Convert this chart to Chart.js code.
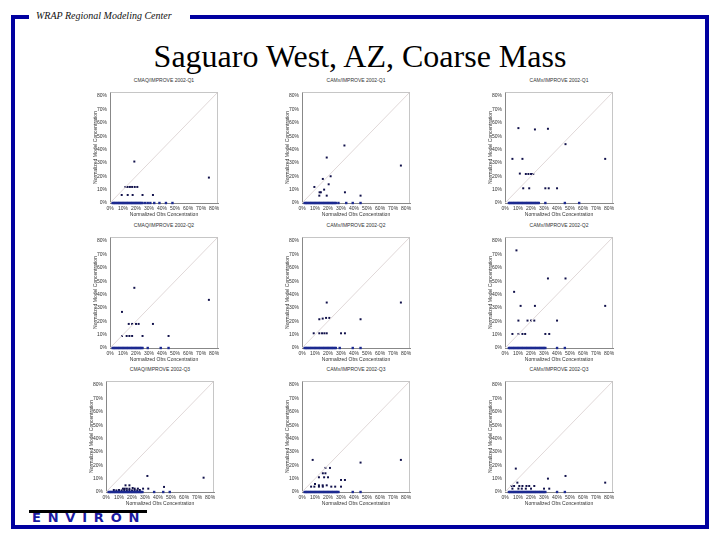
<!DOCTYPE html>
<html>
<head>
<meta charset="utf-8">
<script src="https://cdn.jsdelivr.net/npm/chart.js@4.4.0/dist/chart.umd.min.js"></script>
<style>
  html, body { margin: 0; padding: 0; background: #fff; }
  #slide { position: relative; width: 720px; height: 540px; overflow: hidden; background: #fff; }
  .frame { position: absolute; background: #0000a0; }
  .panel { position: absolute; }
  .ptitle { position: absolute; font: 5px "Liberation Sans", Arial, sans-serif; color: #333; text-align: center; white-space: nowrap; }
  #head { position: absolute; left: 36px; top: 10px; font: italic 10px "Liberation Serif", "Times New Roman", serif; color: #111; }
  #title { position: absolute; left: 0; width: 720px; top: 41px; text-align: center; font: 32px "Liberation Serif", "Times New Roman", serif; color: #000; line-height: 30px; }
  #logoBar { position: absolute; left: 29px; top: 510px; width: 118px; height: 3px; background: #000; }
  #logo { position: absolute; left: 32px; top: 512px; font: bold 13px "DejaVu Sans", sans-serif; letter-spacing: 6.8px; color: #1a1aa0; line-height: 12px; }
</style>
</head>
<body>
<div id="slide">
  <div class="frame" style="left:11px;top:15px;width:18px;height:4px"></div>
  <div class="frame" style="left:190px;top:15px;width:519px;height:4px"></div>
  <div class="frame" style="left:11px;top:15px;width:4px;height:514px"></div>
  <div class="frame" style="left:705px;top:15px;width:4px;height:514px"></div>
  <div class="frame" style="left:11px;top:525px;width:698px;height:4px"></div>
  <div id="head">WRAP Regional Modeling Center</div>
  <div id="title">Saguaro West, AZ, Coarse Mass</div>
  <div id="logoBar"></div>
  <div id="logo">ENVIRON</div>
</div>
<script>
// 축 눈금
const TICKS = [0, 10, 20, 30, 40, 50, 60, 70, 80];
const AXIS_MAX = 83;

// 패널 제목
const panelTitles = [
  'CMAQ/IMPROVE 2002-Q1', 'CAMx/IMPROVE 2002-Q1', 'CAMx/IMPROVE 2002-Q1',
  'CMAQ/IMPROVE 2002-Q2', 'CAMx/IMPROVE 2002-Q2', 'CAMx/IMPROVE 2002-Q2',
  'CMAQ/IMPROVE 2002-Q3', 'CAMx/IMPROVE 2002-Q3', 'CAMx/IMPROVE 2002-Q3'
];
const xTitle = 'Normalized Obs Concentration';
const yTitle = 'Normalized Model Concentration';

// 관측(x) / 모델(y) 값 (%)
const obs1 = [18.7, 76, 11.8, 13.5, 15.3, 17, 19, 21, 9, 13.6, 17.4, 25, 33];
const mod1 = [31, 19, 12, 12, 12, 12, 12, 12, 6, 6, 6, 6, 6];
const obs2 = [32.6, 19, 76, 22, 16, 20.5, 9.5, 17, 13.5, 14.5, 13.3, 19, 33, 45];
const mod2 = [43, 34, 28, 20, 18, 14, 12, 10, 8, 8, 5.5, 5.5, 8, 5.5];
const obs3 = [10.3, 23, 33, 46.5, 5.7, 13.4, 77, 11.4, 16, 18, 20, 21.7, 14, 18.6, 31, 33.6, 40];
const mod3 = [56, 55, 55.5, 44, 33, 33, 33, 22, 21.7, 21.7, 21.7, 21.7, 11, 11, 11, 11, 11];
const obs4 = [18.7, 76, 9.2, 14.4, 17, 20, 22, 33, 9.2, 12.8, 14.9, 17, 25, 45];
const mod4 = [45, 36, 27, 18, 18, 18, 18, 18, 9, 9, 9, 9, 9, 9];
const obs5 = [19, 76, 13.3, 15.9, 18.5, 21, 45, 9, 13.3, 15.4, 17.2, 19, 30, 33];
const mod5 = [34, 34, 21.5, 22, 22.5, 22.5, 21.5, 11, 11, 11, 11, 11, 11, 11];
const obs6 = [8.8, 33, 46.5, 7, 12, 23, 77, 10.3, 17.3, 20, 22.5, 40, 5.7, 10.3, 13.4, 15.5, 31, 34];
const mod6 = [73, 52, 52, 42, 31.5, 31.5, 31.5, 20.5, 20.5, 20.5, 20.5, 20.5, 10.5, 10.5, 10.5, 10.5, 10.5, 10.5];
const obs7 = [31.8, 75, 44.6, 15, 18, 13, 14.4, 16, 18, 20.5, 22, 24.5, 28.5, 32.5, 6, 8, 10, 12, 14, 16, 18, 20, 22, 24, 26];
const mod7 = [12, 10.7, 3.8, 5, 5, 2.5, 2.5, 2.5, 2.5, 3, 2.5, 2.5, 2.5, 2.5, 1.5, 1.2, 1.5, 1.2, 1.5, 1.2, 1.5, 1.2, 1.5, 1.2, 1.5];
const obs8 = [8.2, 45, 76, 18, 21.5, 16, 18, 13, 17, 20, 30, 33, 10, 13, 15.9, 19, 7, 9.5, 13, 16, 22.5, 25.5, 30];
const mod8 = [24, 22, 24, 18, 18, 14, 14, 11, 11, 11, 9, 9, 6, 5, 5, 5, 4, 4, 4, 4, 4, 4, 4];
const obs9 = [8.3, 46.5, 77, 33, 9.5, 5, 7, 11, 13.4, 16.5, 18.6, 22.5, 5.7, 10.3, 12.9, 16, 20, 30, 34];
const mod9 = [17.5, 12, 7, 10, 7, 4.5, 4.5, 4.5, 4.5, 4.5, 4.5, 4.5, 2.5, 2.5, 2.5, 2.5, 2.5, 2.5, 2.5];

// 모델값 0 인 관측값 (x축 위의 점들)
const zero1 = [2, 3, 4, 5, 6, 7, 8, 9, 10, 11, 12, 13, 14, 15, 16, 17, 18, 19, 20, 21, 22, 23, 24, 25, 27, 29, 31, 34, 38, 43, 48];
const zero2 = [2, 3, 4, 5, 6, 7, 8, 9, 10, 11, 12, 13, 14, 15, 16, 17, 18, 19, 20, 21, 22, 23, 24, 25, 26, 28, 34, 39, 45];
const zero3 = [3, 4, 5, 6, 7, 8, 9, 10, 11, 12, 13, 14, 15, 16, 17, 18, 19, 20, 21, 22, 23, 24, 25, 26, 31, 46, 57];
const zero4 = [2, 3, 4, 5, 6, 7, 8, 9, 10, 11, 12, 13, 14, 15, 16, 17, 18, 19, 20, 21, 22, 23, 24, 25, 29, 39, 45];
const zero5 = [2, 3, 4, 5, 6, 7, 8, 9, 10, 11, 12, 13, 14, 15, 16, 17, 18, 19, 20, 21, 22, 23, 24, 25, 26, 29, 39, 45];
const zero6 = [3, 4, 5, 6, 7, 8, 9, 10, 11, 12, 13, 14, 15, 16, 17, 18, 19, 20, 21, 22, 23, 24, 25, 26, 27, 28, 29, 30, 31, 40, 46];
const zero7 = [2, 3, 4, 5, 6, 7, 8, 9, 10, 11, 12, 13, 14, 15, 16, 17, 18, 19, 20, 21, 22, 23, 24, 25, 26, 27, 28, 37, 44, 49];
const zero8 = [2, 3, 4, 5, 6, 7, 8, 9, 10, 11, 12, 13, 14, 15, 16, 17, 18, 19, 20, 21, 22, 23, 24, 25, 26, 27, 28, 39, 45];
const zero9 = [3, 4, 5, 6, 7, 8, 9, 10, 11, 12, 13, 14, 15, 16, 17, 18, 19, 20, 21, 22, 23, 24, 25, 26, 27, 28, 29, 30, 31, 40, 46];

const obsList = [obs1, obs2, obs3, obs4, obs5, obs6, obs7, obs8, obs9];
const modList = [mod1, mod2, mod3, mod4, mod5, mod6, mod7, mod8, mod9];
const zeroList = [zero1, zero2, zero3, zero4, zero5, zero6, zero7, zero8, zero9];

// 패널 위치 (플롯 영역)
const colLeft = [110, 302, 505];
const rowTop = [91, 236, 380];
const PW = 108, PH = 112;
const Y_W = 18, X_H = 16, PAD_T = 5, PAD_R = 5;

// 플롯 테두리
const frameBox = {
  id: 'frameBox',
  afterDatasetsDraw(chart) {
    const a = chart.chartArea, c = chart.ctx;
    c.save();
    c.strokeStyle = '#b8b8b8';
    c.lineWidth = 0.8;
    c.beginPath();
    c.moveTo(a.left, a.top + 0.5);
    c.lineTo(a.right - 0.5, a.top + 0.5);
    c.lineTo(a.right - 0.5, a.bottom);
    c.stroke();
    c.restore();
  }
};

const slide = document.getElementById('slide');
const font5 = { family: '"Liberation Sans", Arial, sans-serif', size: 5 };

for (let i = 0; i < 9; i++) {
  const row = Math.floor(i / 3), col = i % 3;
  const left = (i === 6 ? 106 : colLeft[col]);
  const top = rowTop[row];

  const t = document.createElement('div');
  t.className = 'ptitle';
  t.style.left = left + 'px';
  t.style.width = PW + 'px';
  t.style.top = (top - 14) + 'px';
  t.textContent = panelTitles[i];
  slide.appendChild(t);

  const wrap = document.createElement('div');
  wrap.className = 'panel';
  wrap.style.left = (left - Y_W) + 'px';
  wrap.style.top = (top - PAD_T) + 'px';
  const cv = document.createElement('canvas');
  cv.width = PW + Y_W + PAD_R;
  cv.height = PH + PAD_T + X_H;
  cv.style.width = cv.width + 'px';
  cv.style.height = cv.height + 'px';
  wrap.appendChild(cv);
  slide.appendChild(wrap);

  const pts = obsList[i].map((x, k) => ({ x, y: modList[i][k] }));
  const zeros = zeroList[i].map(x => ({ x, y: 0 }));

  new Chart(cv, {
    type: 'scatter',
    data: {
      datasets: [
        {
          type: 'line',
          data: [{ x: 0, y: 0 }, { x: AXIS_MAX, y: AXIS_MAX }],
          borderColor: '#e0d8d8',
          borderWidth: 1,
          pointRadius: 0
        },
        {
          data: zeros,
          backgroundColor: '#1c2a90',
          pointStyle: 'rect',
          pointRadius: 1.7,
          borderWidth: 0,
          clip: 4
        },
        {
          data: pts,
          backgroundColor: '#10104a',
          pointStyle: 'rect',
          pointRadius: 1.4,
          borderWidth: 0,
          clip: 4
        }
      ]
    },
    options: {
      responsive: false,
      animation: false,
      events: [],
      layout: { padding: { top: PAD_T, right: PAD_R, left: 0, bottom: 0 } },
      plugins: { legend: { display: false }, tooltip: { enabled: false } },
      scales: {
        x: {
          type: 'linear', min: 0, max: AXIS_MAX,
          afterFit: s => { s.height = X_H; },
          grid: { display: false, drawTicks: false },
          border: { display: true, color: '#888', width: 1 },
          ticks: {
            includeBounds: false, stepSize: 10, maxRotation: 0, autoSkip: false,
            padding: 3, color: '#333', font: font5,
            callback: v => TICKS.includes(v) ? v + '%' : ''
          },
          title: { display: true, text: xTitle, color: '#333', font: font5, padding: { top: 0, bottom: 1 } }
        },
        y: {
          type: 'linear', min: 0, max: AXIS_MAX,
          afterFit: s => { s.width = Y_W; },
          grid: { display: false, drawTicks: false },
          border: { display: true, color: '#888', width: 1 },
          ticks: {
            includeBounds: false, stepSize: 10, autoSkip: false,
            padding: 3, color: '#333', font: font5,
            callback: v => TICKS.includes(v) ? v + '%' : ''
          },
          title: { display: true, text: yTitle, color: '#333', font: font5, padding: { top: 1, bottom: 0 } }
        }
      }
    },
    plugins: [frameBox]
  });
}
</script>
</body>
</html>
